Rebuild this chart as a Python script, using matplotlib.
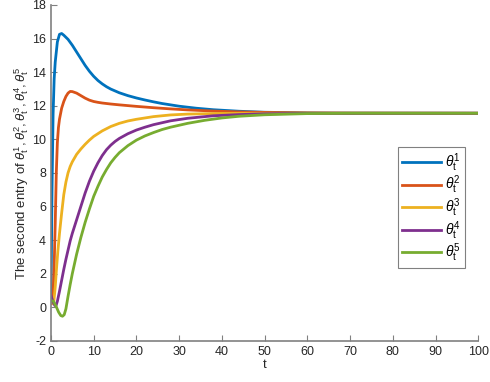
import numpy as np
import matplotlib.pyplot as plt

plt.rcParams['font.family'] = ['Liberation Sans', 'DejaVu Sans']
plt.rcParams['mathtext.fontset'] = 'custom'
plt.rcParams['mathtext.it'] = 'Liberation Sans:italic'
plt.rcParams['mathtext.rm'] = 'Liberation Sans'
plt.rcParams['axes.unicode_minus'] = False

# values (t, second entry of theta)
t1 = [0, 0.25, 0.5, 0.75, 1, 1.5, 2, 2.5, 3, 4, 5, 6, 7, 8, 9, 10, 11, 12, 13,
      14, 16, 18, 20, 22, 24, 26, 28, 30, 34, 38, 44, 50, 60, 70, 100]
v1 = [0.3, 7.0, 11.5, 13.6, 14.6, 15.8, 16.25, 16.3, 16.2, 15.95, 15.6, 15.2,
      14.8, 14.4, 14.05, 13.75, 13.5, 13.3, 13.13, 12.99, 12.77, 12.6, 12.46,
      12.34, 12.23, 12.13, 12.05, 11.97, 11.85, 11.76, 11.67, 11.61, 11.57,
      11.56, 11.55]

t2 = [0, 0.25, 0.5, 0.75, 1, 1.25, 1.5, 1.75, 2, 2.5, 3, 3.5, 4, 4.5, 5, 6, 7, 8,
      9, 10, 11, 12, 14, 16, 20, 24, 28, 32, 38, 44, 50, 60, 70, 100]
v2 = [0.3, 0.2, 0.8, 2.5, 5.0, 8.0, 9.8, 10.7, 11.2, 11.85, 12.25, 12.55, 12.75,
      12.85, 12.84, 12.75, 12.6, 12.45, 12.33, 12.25, 12.2, 12.16, 12.1, 12.05,
      11.96, 11.88, 11.81, 11.75, 11.68, 11.63, 11.6, 11.57, 11.56, 11.55]

t3 = [0, 0.4, 0.7, 1.0, 1.3, 1.6, 2.0, 2.5, 3.0, 3.5, 4, 4.5, 5, 6, 7, 8, 9, 10,
      12, 14, 16, 18, 20, 24, 28, 32, 40, 50, 100]
v3 = [0.5, 0.2, 0.4, 1.2, 2.3, 3.3, 4.4, 5.6, 6.7, 7.45, 8.0, 8.38, 8.66, 9.1,
      9.42, 9.7, 9.95, 10.17, 10.5, 10.76, 10.95, 11.09, 11.19, 11.35, 11.45,
      11.5, 11.54, 11.55, 11.55]

t4 = [0, 0.5, 0.9, 1.2, 1.5, 2, 2.5, 3, 3.5, 4, 4.5, 5, 6, 7, 8, 9, 10, 11, 12, 13,
      14, 15, 16, 18, 20, 22, 24, 28, 32, 38, 44, 50, 60, 100]
v4 = [0.7, 0.3, 0.1, 0.1, 0.35, 0.95, 1.6, 2.25, 2.85, 3.4, 3.95, 4.4, 5.2, 6.0,
      6.8, 7.5, 8.1, 8.6, 9.03, 9.38, 9.65, 9.87, 10.05, 10.33, 10.55, 10.72,
      10.87, 11.1, 11.25, 11.4, 11.47, 11.52, 11.54, 11.55]

t5 = [0, 0.6, 1.2, 1.8, 2.3, 2.7, 3.1, 3.5, 4, 4.5, 5, 6, 7, 8, 9, 10, 11, 12, 13,
      14, 15, 16, 18, 20, 22, 24, 26, 28, 32, 36, 40, 44, 50, 60, 70, 100]
v5 = [0.4, 0.35, 0.05, -0.3, -0.5, -0.54, -0.45, -0.1, 0.65, 1.35, 2.0, 3.15,
      4.15, 5.05, 5.85, 6.6, 7.2, 7.75, 8.2, 8.6, 8.92, 9.2, 9.62, 9.95, 10.2,
      10.4, 10.58, 10.72, 10.95, 11.13, 11.27, 11.37, 11.46, 11.53, 11.55, 11.55]

series = [(t1, v1), (t2, v2), (t3, v3), (t4, v4), (t5, v5)]
labels = [r'$\theta^{%d}_{\mathrm{t}}$' % k for k in range(1, 6)]
colors = [(0, 0.447, 0.741), (0.85, 0.325, 0.098), (0.929, 0.694, 0.125),
          (0.494, 0.184, 0.556), (0.466, 0.674, 0.188)]

fig = plt.figure(figsize=(4.9, 3.82), dpi=100)
ax = fig.add_axes([0.104, 0.108, 0.872, 0.879])

for (t, v), lab, c in zip(series, labels, colors):
    ax.plot(t, v, color=c, linewidth=2, label=lab)

ax.set_xlim(0, 100)
ax.set_ylim(-2, 18)
ax.set_xticks(np.arange(0, 101, 10))
ax.set_yticks(np.arange(-2, 19, 2))

grey = (0.15, 0.15, 0.15)
for s in ['top', 'right']:
    ax.spines[s].set_visible(False)
for s in ['left', 'bottom']:
    ax.spines[s].set_color((0.5, 0.5, 0.5))
    ax.spines[s].set_linewidth(1.2)
ax.tick_params(direction='in', length=4, width=0.8, colors=(0.5, 0.5, 0.5),
               labelcolor=grey, labelsize=9)

ax.set_xlabel('t', fontsize=9.5, color=grey, labelpad=1)
ax.set_ylabel(r'The second entry of $\theta^1_{\mathrm{t}}, \theta^2_{\mathrm{t}}, '
              r'\theta^3_{\mathrm{t}}, \theta^4_{\mathrm{t}}, \theta^5_{\mathrm{t}}$',
              fontsize=9.5, color=grey, labelpad=1)

leg = ax.legend(loc='upper left', bbox_to_anchor=(0.8126, 0.577), fontsize=10,
                fancybox=False, framealpha=1, edgecolor=(0.5, 0.5, 0.5),
                handlelength=2.8, handletextpad=0.3, labelspacing=0.0,
                borderpad=0.3, borderaxespad=0)
leg.get_frame().set_linewidth(0.8)

fig.savefig('out.png', dpi=100)
